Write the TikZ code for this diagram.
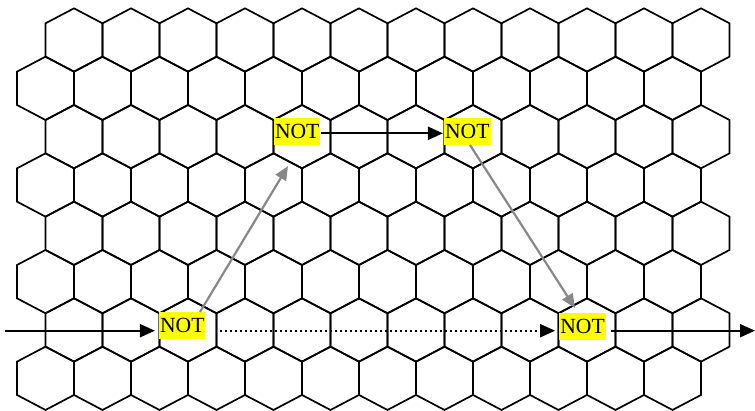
\documentclass[tikz,border=0pt]{standalone}
\usepackage{fontspec}
\setmainfont{Liberation Serif}
\usetikzlibrary{arrows.meta}
\definecolor{notyellow}{RGB}{255,255,0}
\definecolor{arrowgray}{RGB}{136,136,136}
\tikzset{
  hexline/.style={line width=1.7pt, line join=miter},
  notbox/.style={fill=notyellow, inner xsep=1pt, inner ysep=0pt,
    text height=20.6pt, text depth=6.7pt, font=\fontsize{21.6}{25}\selectfont},
  blackarrow/.style={line width=2.2pt, -{Triangle[length=15pt,width=13pt]}},
  dotarrow/.style={line width=2.2pt, dash pattern=on 2pt off 3pt, -{Triangle[length=15pt,width=13pt]}},
  grayarrow/.style={line width=2.2pt, draw=arrowgray, -{Triangle[length=14pt,width=12pt]}, arrowgray}
}
\begin{document}
\begin{tikzpicture}[x=1pt,y=-1pt]
\useasboundingbox (0,0) rectangle (755,410);
% hexagonal grid
\foreach \r in {0,...,7}{
  \pgfmathsetmacro{\cy}{40+48.33*\r}
  \pgfmathsetmacro{\xo}{mod(\r,2)==0 ? 74 : 45.5}
  \foreach \c in {0,...,11}{
    \pgfmathsetmacro{\cx}{\xo+57*\c}
    \draw[hexline] (\cx,\cy) ++(0,-31.67) -- ++(28.5,15) -- ++(0,33.33)
      -- ++(-28.5,15) -- ++(-28.5,-15) -- ++(0,-33.33) -- cycle;
  }
}
% gates
\node[notbox] (n1) at (182.3,325.3) {NOT};
\node[notbox] (n2) at (297.2,131.7) {NOT};
\node[notbox] (n3) at (467.3,131.7) {NOT};
\node[notbox] (n4) at (582.5,326.7) {NOT};
% free ends
\coordinate (in) at (5,330.7);
\coordinate (out) at (755,330.7);
\coordinate (g1s) at (200,312);
\coordinate (g1e) at (288,166);
\coordinate (g2s) at (470,145);
\coordinate (g2e) at (575,308);
\coordinate (d1) at (220,330.7);
% connectors
\draw[blackarrow, shorten >=4pt] (in) -- (in -| n1.west);
\draw[dotarrow, shorten >=4pt] (d1) -- (d1 -| n4.west);
\draw[blackarrow, shorten <=5pt] (out -| n4.east) -- (out);
\draw[blackarrow, shorten >=1pt] ([yshift=-1.6pt]n2.east) -- ([yshift=-1.6pt]n3.west);
\draw[grayarrow] (g1s) -- (g1e);
\draw[grayarrow] (g2s) -- (g2e);
\end{tikzpicture}
\end{document}
